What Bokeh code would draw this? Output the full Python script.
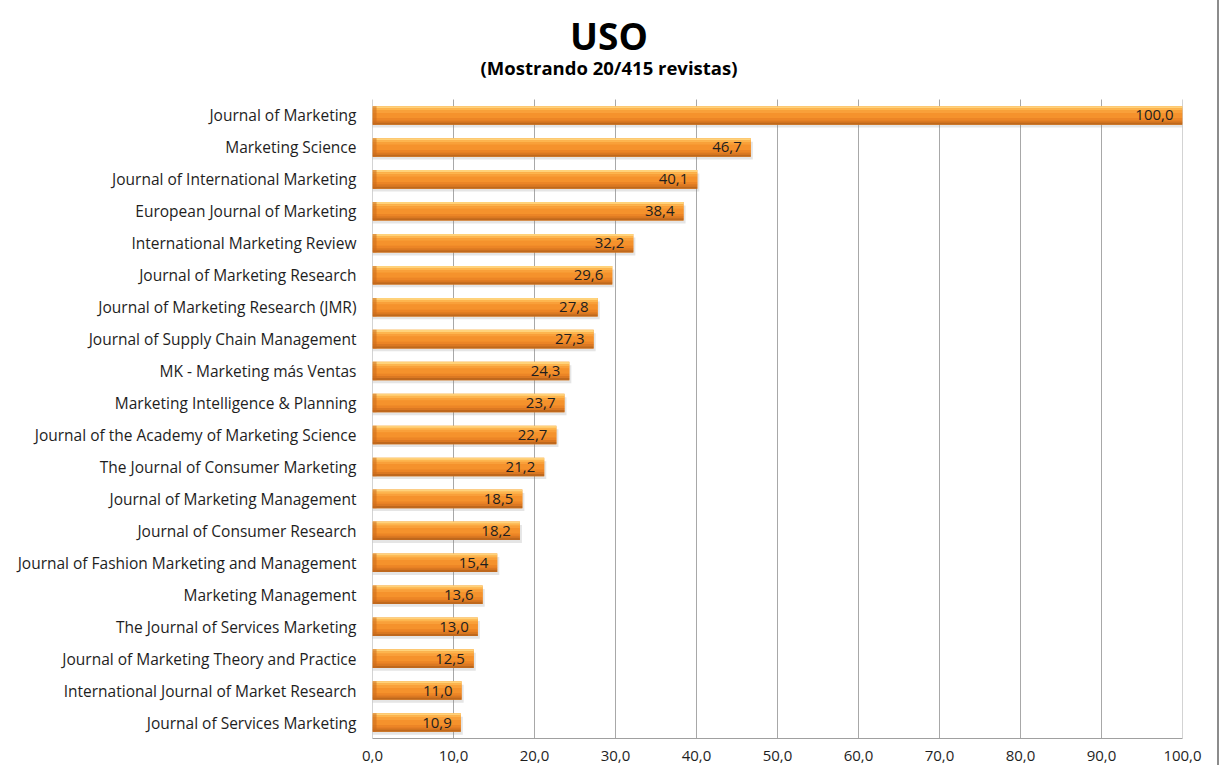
from bokeh.plotting import figure
from bokeh.models import Range1d, CustomJSTickFormatter, ColumnDataSource, FixedTicker
from bokeh.transform import dodge
from bokeh.core.properties import value
from bokeh.embed import file_html
from bokeh.resources import INLINE

journals = [
    "Journal of Marketing",
    "Marketing Science",
    "Journal of International Marketing",
    "European Journal of Marketing",
    "International Marketing Review",
    "Journal of Marketing Research",
    "Journal of Marketing Research (JMR)",
    "Journal of Supply Chain Management",
    "MK - Marketing más Ventas",
    "Marketing Intelligence & Planning",
    "Journal of the Academy of Marketing Science",
    "The Journal of Consumer Marketing",
    "Journal of Marketing Management",
    "Journal of Consumer Research",
    "Journal of Fashion Marketing and Management",
    "Marketing Management",
    "The Journal of Services Marketing",
    "Journal of Marketing Theory and Practice",
    "International Journal of Market Research",
    "Journal of Services Marketing",
]
uso = [100.0, 46.7, 40.1, 38.4, 32.2, 29.6, 27.8, 27.3, 24.3, 23.7,
       22.7, 21.2, 18.5, 18.2, 15.4, 13.6, 13.0, 12.5, 11.0, 10.9]
x_ticks = [0, 10, 20, 30, 40, 50, 60, 70, 80, 90, 100]
title_text = "USO"
subtitle_text = "(Mostrando 20/415 revistas)"

FONT = "Open Sans"
TXT = "#1e1e1e"

n = len(journals)
pos = [n - 1 - i for i in range(n)]  # first journal on top

src = ColumnDataSource(dict(
    pos=pos,
    uso=uso,
    label=[f"{v:.1f}".replace(".", ",") for v in uso],
))

W, H = 1217, 765
ML, MR, MT, MB = 372, 35, 0, 27
frame_h = H - MT - MB
slot_px = 31.95
y_lo = -0.5
y_hi = y_lo + frame_h / slot_px
frame_w = W - ML - MR
x_center = (W / 2 - ML) / frame_w * 100  # canvas centre in data units

p = figure(
    width=W, height=H,
    x_range=Range1d(0, 100), y_range=Range1d(y_lo, y_hi),
    output_backend="svg", toolbar_location=None,
    min_border_left=ML, min_border_right=MR, min_border_top=MT, min_border_bottom=MB,
)
p.styles = {
    "box-shadow": "-2px 0 0 #8c8c8c, 2px 0 0 #8c8c8c, 0 -2px 0 #8c8c8c, "
                  "-2px -2px 0 #8c8c8c, 2px -2px 0 #8c8c8c",
}
p.outline_line_color = None
p.background_fill_color = "white"
p.border_fill_color = "white"
p.xgrid.grid_line_color = None
p.ygrid.grid_line_color = None

# vertical grid lines over the category band only
p.segment(x0=x_ticks, x1=x_ticks, y0=[y_lo] * len(x_ticks), y1=[n - 0.5] * len(x_ticks),
          line_color="#a8a8a8", line_width=1)

# bar shadow
p.hbar(y=dodge("pos", -0.1, range=p.y_range), left=0, right=dodge("uso", 0.25, range=p.x_range),
       height=0.56, source=src, fill_color="#8a8a8a", fill_alpha=0.22, line_color=None)

# bar body with gradient-like strips (top to bottom)
p.hbar(y="pos", left=0, right="uso", height=0.58, source=src,
       fill_color="#F39129", line_color=None)
strips = [
    (0.255, 0.07, "#FFD27A"),
    (0.19, 0.07, "#FDB54E"),
    (0.12, 0.08, "#F9A03A"),
    (0.0, 0.16, "#F5922C"),
    (-0.12, 0.08, "#EC8526"),
    (-0.19, 0.07, "#DB7822"),
    (-0.255, 0.07, "#BF681D"),
]
for off, h, col in strips:
    p.hbar(y=dodge("pos", off, range=p.y_range), left=0, right="uso", height=h,
           source=src, fill_color=col, line_color=None)
# darker bevel at left end
p.hbar(y="pos", left=0, right=0.5, height=0.58, source=src,
       fill_color="#C8691C", fill_alpha=0.55, line_color=None)

p.text(x="uso", y="pos", text="label", source=src, x_offset=-9,
       text_align="right", text_baseline="middle",
       text_font=value(FONT), text_font_size="15px", text_color=TXT)

# titles
p.text(x=[x_center], y=[y_lo + (746 - 43) / slot_px], text=[title_text],
       text_align="center", text_baseline="middle", text_font=value(FONT),
       text_font_style="bold", text_font_size="37px", text_color="black")
p.text(x=[x_center], y=[y_lo + (746 - 75) / slot_px], text=[subtitle_text],
       text_align="center", text_baseline="middle", text_font=value(FONT),
       text_font_style="bold", text_font_size="18.5px", text_color="black")

p.xaxis.ticker = FixedTicker(ticks=x_ticks)
p.xaxis.formatter = CustomJSTickFormatter(code="return tick.toFixed(1).replace('.', ',');")
p.xaxis.axis_line_color = "#a0a0a0"
p.xaxis.major_tick_line_color = None
p.xaxis.minor_tick_line_color = None
p.xaxis.major_label_standoff = 6
p.xaxis.major_label_text_font = FONT
p.xaxis.major_label_text_font_size = "15px"
p.xaxis.major_label_text_color = TXT

p.yaxis.ticker = FixedTicker(ticks=pos)
p.yaxis.major_label_overrides = {pp: name for pp, name in zip(pos, journals)}
p.yaxis.axis_line_color = None
p.yaxis.major_tick_line_color = None
p.yaxis.minor_tick_line_color = None
p.yaxis.major_tick_out = 0
p.yaxis.major_label_standoff = 16
p.yaxis.major_label_text_font = FONT
p.yaxis.major_label_text_font_size = "15.5px"
p.yaxis.major_label_text_color = TXT

open("out.html", "w").write(file_html(p, INLINE))
